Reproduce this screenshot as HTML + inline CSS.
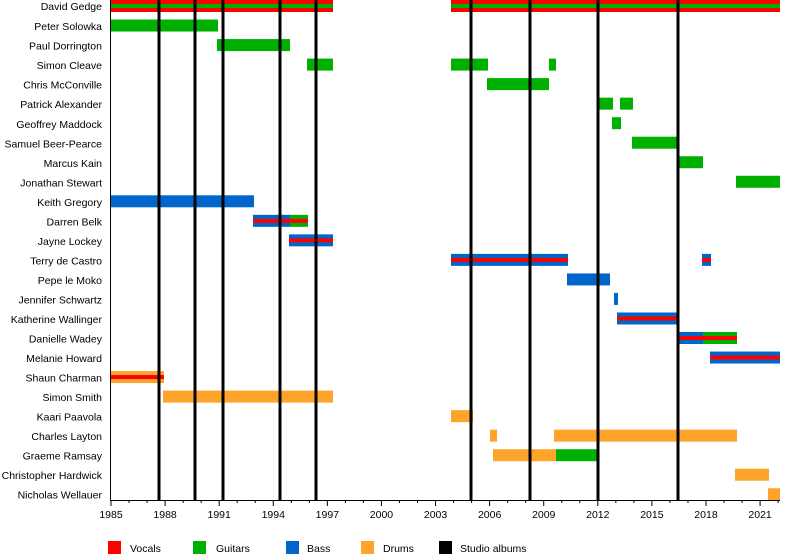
<!DOCTYPE html>
<html><head><meta charset="utf-8"><style>
html,body{margin:0;padding:0;background:#fff}
svg{display:block}
text{font-family:"Liberation Sans",sans-serif;font-size:10.5px;fill:#000}
</style></head><body>
<svg width="800" height="560" viewBox="0 0 800 560" xmlns="http://www.w3.org/2000/svg">
<g id="bars"></g>
<g text-anchor="end">
<text x="102" y="10">David Gedge</text>
<text x="102" y="30">Peter Solowka</text>
<text x="102" y="49.5">Paul Dorrington</text>
<text x="102" y="69">Simon Cleave</text>
<text x="102" y="88.5">Chris McConville</text>
<text x="102" y="108">Patrick Alexander</text>
<text x="102" y="128">Geoffrey Maddock</text>
<text x="102" y="147.5">Samuel Beer-Pearce</text>
<text x="102" y="167">Marcus Kain</text>
<text x="102" y="186.5">Jonathan Stewart</text>
<text x="102" y="206">Keith Gregory</text>
<text x="102" y="225.5">Darren Belk</text>
<text x="102" y="245">Jayne Lockey</text>
<text x="102" y="264.5">Terry de Castro</text>
<text x="102" y="284">Pepe le Moko</text>
<text x="102" y="303.5">Jennifer Schwartz</text>
<text x="102" y="323">Katherine Wallinger</text>
<text x="102" y="342.5">Danielle Wadey</text>
<text x="102" y="362">Melanie Howard</text>
<text x="102" y="381.5">Shaun Charman</text>
<text x="102" y="401">Simon Smith</text>
<text x="102" y="420.5">Kaari Paavola</text>
<text x="102" y="440">Charles Layton</text>
<text x="102" y="459.5">Graeme Ramsay</text>
<text x="102" y="479">Christopher Hardwick</text>
<text x="102" y="498.5">Nicholas Wellauer</text>
</g>
<g id="ticks"></g>
<g>
<rect x="108" y="541" width="13" height="13" fill="#ff0000"/><text x="130" y="552">Vocals</text>
<rect x="193" y="541" width="13" height="13" fill="#00b000"/><text x="216" y="552">Guitars</text>
<rect x="286" y="541" width="13" height="13" fill="#0066cc"/><text x="307" y="552">Bass</text>
<rect x="361" y="541" width="13" height="13" fill="#ffa42a"/><text x="383" y="552">Drums</text>
<rect x="439" y="541" width="13" height="13" fill="#000"/><text x="460" y="552">Studio albums</text>
</g>
<script>
var R="#ff0000",G="#00b000",B="#0066cc",O="#ffa42a";
var ns="http://www.w3.org/2000/svg";
var bars=document.getElementById("bars");
function r(g,x,y,w,h,c){var e=document.createElementNS(ns,"rect");e.setAttribute("x",x);e.setAttribute("y",y);e.setAttribute("width",w);e.setAttribute("height",h);e.setAttribute("fill",c);g.appendChild(e);}
function rowY(i){return 6+i*19.53;}
// [row,x1,x2,color,stripe]
var d=[
[0,111,333,R,G],[0,451,780,R,G],
[1,111,218,G],[2,217,290,G],
[3,307,333,G],[3,451,488,G],[3,549,556,G],
[4,487,549,G],[5,597,613,G],[5,620,633,G],[6,612,621,G],[7,632,679,G],[8,678,703,G],[9,736,780,G],
[10,111,254,B],[11,253,290,B,R],[11,290,308,G,R],[12,289,333,B,R],
[13,451,568,B,R],[13,702,711,B,R],[14,567,610,B],[15,614,618,B],[16,617,678,B,R],
[17,679,703,B,R],[17,703,737,G,R],[18,710,780,B,R],
[19,111,164,O,R],[20,163,333,O],[21,451,473,O],[22,490,497,O],[22,554,737,O],
[23,493,556,O],[23,556,598,G],[24,735,769,O],[25,768,780,O]];
d.forEach(function(a){var y=rowY(a[0])-6;r(bars,a[1],y,a[2]-a[1],12,a[3]);if(a[4])r(bars,a[1],y+4,a[2]-a[1],4,a[4]);});
var t=document.getElementById("ticks");
[159,195,223,280,316,471,530,598,678].forEach(function(x){r(t,x-1.5,0,3,500,"#000");});
r(t,110,0,1,501,"#000");r(t,110,500,670,1,"#000");
for(var yr=1985;yr<=2022;yr++){var x=111+(yr-1985)*18.03;var big=(yr-1985)%3==0;r(t,x-0.5,500,1,big?6:3,"#000");
 if(big){var e=document.createElementNS(ns,"text");e.setAttribute("x",x);e.setAttribute("y",518);e.setAttribute("text-anchor","middle");e.textContent=yr;t.appendChild(e);}}
</script>
</svg>
</body></html>
